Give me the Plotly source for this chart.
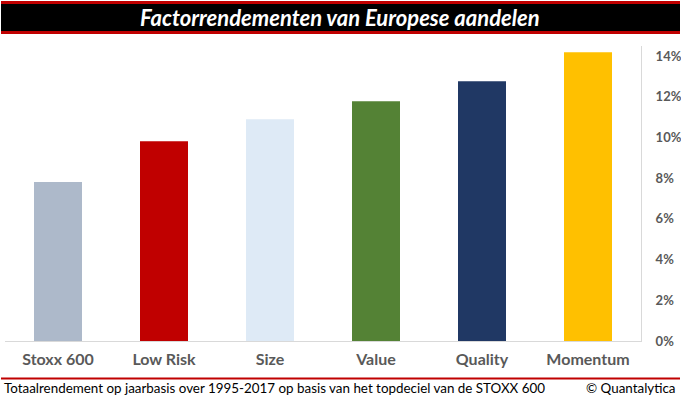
import plotly.graph_objects as go

categories = ["Stoxx 600", "Low Risk", "Size", "Value", "Quality", "Momentum"]
values = [0.0781, 0.0982, 0.109, 0.1179, 0.1277, 0.1419]
colors = ["#ADB9CA", "#C00000", "#DEEAF6", "#548235", "#203864", "#FFC000"]
tick_vals = [0, 0.02, 0.04, 0.06, 0.08, 0.10, 0.12, 0.14]
tick_text = ["0%", "2%", "4%", "6%", "8%", "10%", "12%", "14%"]
title_text = "Factorrendementen van Europese aandelen"
footer_left = "Totaalrendement op jaarbasis over 1995-2017 op basis van het topdeciel van de STOXX 600"
footer_right = "© Quantalytica"

W, H = 681, 399
L, R, T, B = 5, 641, 46, 341

def px(x):
    return (x - L) / (R - L)

def py(y):
    return (B - y) / (B - T)

fig = go.Figure(go.Bar(x=categories, y=values, marker=dict(color=colors, line=dict(width=0)),
                       hoverinfo="skip"))

fig.update_layout(
    width=W, height=H,
    margin=dict(l=L, r=W - R, t=T, b=H - B, pad=0, autoexpand=False),
    paper_bgcolor="white", plot_bgcolor="white",
    bargap=1 - 48 / 106,
    showlegend=False,
    font=dict(family="Lato, Carlito, sans-serif"),
    xaxis=dict(showgrid=False, showline=True, linecolor="#D9D9D9", linewidth=1, automargin=False,
               tickfont=dict(size=16, color="#595959", family="Lato, sans-serif", weight="bold"),
               ticks="", ticklabelstandoff=4, fixedrange=True),
    yaxis=dict(side="right", range=[0, 0.145], tickvals=tick_vals, ticktext=tick_text, automargin=False,
               showgrid=False, showline=True, linecolor="#D9D9D9", linewidth=1, zeroline=False,
               tickfont=dict(size=13, color="#595959", family="Lato, sans-serif", weight="bold"),
               ticks="", ticklabelstandoff=11, fixedrange=True),
    shapes=[
        dict(type="rect", xref="paper", yref="paper", x0=px(1), x1=px(680), y0=py(1), y1=py(34),
             fillcolor="#C00000", line=dict(width=0), layer="above"),
        dict(type="rect", xref="paper", yref="paper", x0=px(1), x1=px(680), y0=py(4), y1=py(31),
             fillcolor="black", line=dict(width=0), layer="above"),
        dict(type="line", xref="paper", yref="paper", x0=px(1), x1=px(680), y0=py(378.5), y1=py(378.5),
             line=dict(color="#C00000", width=2)),
    ],
    annotations=[
        dict(text=f"<b><i>{title_text}</i></b>", xref="paper", yref="paper", x=px(340), y=py(18),
             xanchor="center", yanchor="middle", showarrow=False,
             font=dict(size=22, color="white", family="Lato, sans-serif")),
        dict(text=footer_left, xref="paper", yref="paper", x=px(2), y=py(388),
             xanchor="left", yanchor="middle", showarrow=False,
             font=dict(size=13.4, color="black", family="Lato, sans-serif")),
        dict(text=footer_right, xref="paper", yref="paper", x=px(678), y=py(388),
             xanchor="right", yanchor="middle", showarrow=False,
             font=dict(size=13.4, color="black", family="Lato, sans-serif")),
    ],
)

fig.write_html("out.html", config=dict(displayModeBar=False),
               post_script="document.body.style.margin='0';document.body.style.padding='0';"
                           "document.body.style.overflow='hidden';")
